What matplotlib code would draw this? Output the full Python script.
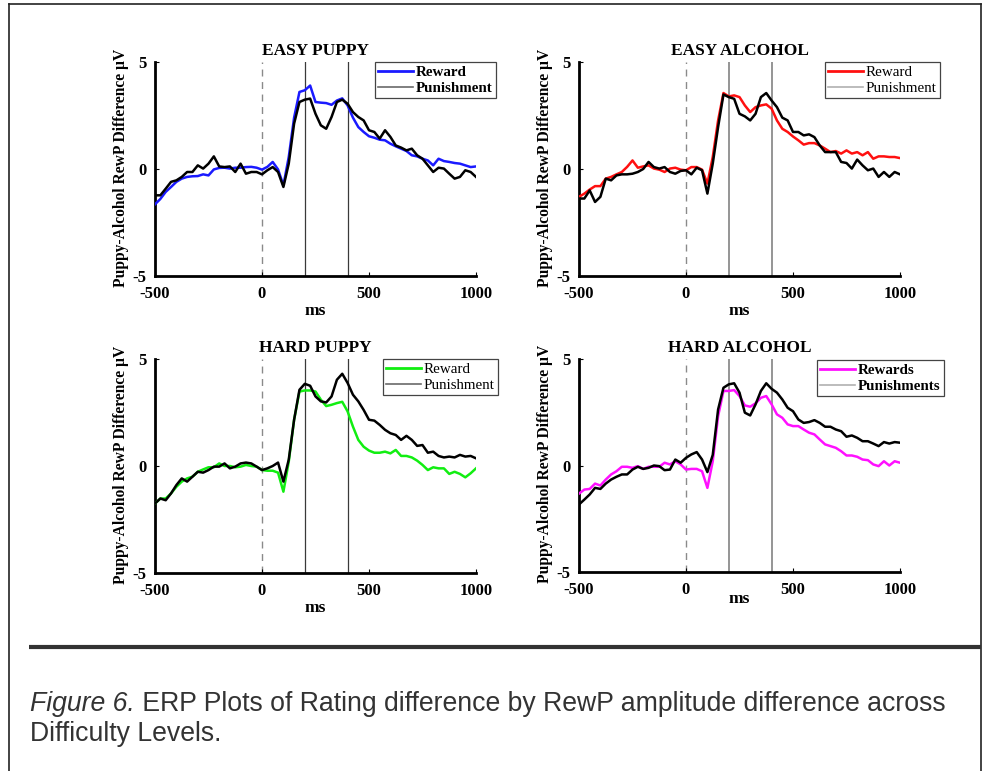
import numpy as np
import matplotlib
matplotlib.use('Agg')
import matplotlib.pyplot as plt
from matplotlib.lines import Line2D

# ---------------- data (µV, every 25 ms from -500 to 1000 ms) ----------------
time_ms = np.arange(-500, 1001, 25)

easy_puppy_reward = [
    -1.65, -1.40, -1.07, -0.84, -0.60, -0.45, -0.37, -0.34, -0.33, -0.25,
    -0.30, -0.02, 0.05, 0.06, 0.02, 0.06, 0.06, 0.09, 0.10, 0.06,
    -0.03, 0.10, 0.33, -0.02, -0.76, 0.56, 2.40, 3.60, 3.68, 3.90,
    3.13, 3.10, 3.08, 3.00, 3.20, 3.30, 2.97, 2.40, 1.96, 1.73,
    1.53, 1.46, 1.37, 1.34, 1.18, 1.06, 0.95, 0.84, 0.64, 0.59,
    0.48, 0.40, 0.17, 0.48, 0.37, 0.33, 0.28, 0.25, 0.17, 0.09, 0.12]
easy_puppy_punish = [
    -1.23, -1.23, -0.92, -0.60, -0.53, -0.37, -0.14, -0.14, 0.17, 0.02,
    0.25, 0.59, 0.12, 0.09, 0.12, -0.14, 0.25, -0.22, -0.14, -0.14,
    -0.25, -0.06, 0.09, -0.14, -0.84, 0.25, 2.12, 3.13, 3.24, 3.29,
    2.58, 2.04, 1.88, 2.43, 3.13, 3.24, 3.05, 2.66, 2.43, 2.27,
    1.81, 1.73, 1.42, 1.81, 1.50, 1.10, 1.00, 0.87, 0.95, 0.64,
    0.48, 0.17, -0.14, 0.06, 0.02, -0.22, -0.45, -0.37, -0.06, -0.14, -0.37]

easy_alcohol_reward = [
    -1.30, -1.15, -0.96, -0.80, -0.80, -0.45, -0.37, -0.25, -0.14, 0.10,
    0.40, 0.06, 0.12, 0.17, 0.02, -0.03, -0.14, 0.02, 0.06, -0.03,
    -0.06, 0.09, 0.09, -0.03, -0.68, 0.56, 2.27, 3.55, 3.39, 3.44,
    3.36, 2.97, 2.66, 2.89, 2.97, 3.02, 2.82, 2.27, 1.88, 1.73,
    1.52, 1.34, 1.14, 1.21, 1.21, 1.10, 0.95, 0.79, 0.84, 0.72,
    0.87, 0.72, 0.79, 0.64, 0.79, 0.48, 0.59, 0.59, 0.56, 0.56, 0.51]
easy_alcohol_punish = [
    -1.38, -1.38, -1.00, -1.54, -1.30, -0.45, -0.53, -0.30, -0.25, -0.25,
    -0.22, -0.14, 0.00, 0.33, 0.09, 0.02, 0.09, -0.14, -0.22, -0.09,
    -0.06, -0.25, 0.06, -0.06, -1.15, 0.25, 1.96, 3.48, 3.36, 3.28,
    2.58, 2.46, 2.27, 2.58, 3.36, 3.55, 3.20, 2.89, 2.40, 2.27,
    1.73, 1.73, 1.57, 1.62, 1.49, 1.10, 0.79, 0.79, 0.79, 0.33,
    0.28, 0.02, 0.44, 0.17, -0.06, 0.02, -0.37, -0.14, -0.37, -0.14, -0.25]

hard_puppy_reward = [
    -1.75, -1.52, -1.52, -1.28, -0.97, -0.73, -0.58, -0.50, -0.27, -0.16,
    -0.06, -0.06, 0.12, 0.00, 0.00, -0.06, -0.03, 0.05, 0.00, -0.03,
    -0.19, -0.22, -0.22, -0.31, -1.20, 0.20, 2.16, 3.48, 3.53, 3.53,
    3.48, 3.10, 2.80, 2.86, 2.94, 3.00, 2.55, 1.84, 1.22, 0.90,
    0.72, 0.62, 0.62, 0.67, 0.59, 0.75, 0.47, 0.47, 0.40, 0.25,
    0.05, -0.19, -0.06, -0.11, -0.11, -0.37, -0.27, -0.37, -0.53, -0.34, -0.11]
hard_puppy_punish = [
    -1.75, -1.52, -1.60, -1.28, -0.89, -0.58, -0.73, -0.50, -0.27, -0.31,
    -0.19, -0.03, -0.03, 0.12, -0.11, -0.03, 0.12, 0.16, 0.12, -0.03,
    -0.19, -0.11, 0.00, 0.16, -0.73, 0.30, 2.16, 3.56, 3.84, 3.75,
    3.25, 3.02, 2.97, 3.25, 4.03, 4.31, 3.88, 3.33, 3.02, 2.62,
    2.16, 2.12, 1.92, 1.69, 1.53, 1.45, 1.22, 1.41, 1.22, 0.94,
    0.98, 0.62, 0.67, 0.47, 0.40, 0.44, 0.40, 0.52, 0.44, 0.47, 0.36]

hard_alcohol_reward = [
    -1.32, -1.13, -1.10, -0.85, -0.94, -0.66, -0.42, -0.27, -0.06, -0.06,
    -0.11, -0.03, -0.16, -0.06, -0.06, -0.06, 0.13, 0.05, 0.20, 0.05,
    -0.19, -0.16, -0.16, -0.27, -1.05, 0.20, 2.32, 3.50, 3.50, 3.54,
    3.26, 2.82, 2.76, 2.92, 3.18, 3.26, 2.87, 2.40, 2.24, 1.93,
    1.85, 1.85, 1.69, 1.54, 1.46, 1.22, 0.99, 0.91, 0.83, 0.67,
    0.47, 0.47, 0.41, 0.28, 0.25, 0.05, -0.03, 0.20, 0.00, 0.20, 0.13]
hard_alcohol_punish = [
    -1.83, -1.60, -1.36, -1.05, -1.10, -0.85, -0.66, -0.53, -0.42, -0.42,
    -0.19, -0.06, -0.16, -0.11, 0.00, -0.03, -0.22, -0.19, 0.28, 0.13,
    0.36, 0.52, 0.63, 0.28, -0.31, 0.50, 2.63, 3.65, 3.81, 3.86,
    3.42, 2.48, 2.35, 2.87, 3.50, 3.86, 3.60, 3.42, 3.10, 2.71,
    2.55, 2.16, 2.00, 2.04, 2.13, 2.00, 1.82, 1.82, 1.69, 1.61,
    1.35, 1.41, 1.30, 1.14, 1.14, 1.03, 0.91, 1.10, 1.03, 1.10, 1.07]

titles = ['EASY PUPPY', 'EASY ALCOHOL', 'HARD PUPPY', 'HARD ALCOHOL']
reward_labels = ['Reward', 'Reward', 'Reward', 'Rewards']
punish_labels = ['Punishment', 'Punishment', 'Punishment', 'Punishments']
x_ticks = [-500, 0, 500, 1000]
y_ticks = [-5, 0, 5]
marker_times = [200, 400]
y_label = 'Puppy-Alcohol RewP Difference µV'
x_label = 'ms'
caption_italic = 'Figure 6.'
caption_rest = ' ERP Plots of Rating difference by RewP amplitude difference across'
caption_line2 = 'Difficulty Levels.'

# ---------------- layout / styles ----------------
plt.rcParams['axes.unicode_minus'] = False
plt.rcParams['font.family'] = ['Liberation Serif', 'DejaVu Serif']

W, H = 988, 771
fig = plt.figure(figsize=(W / 100, H / 100), dpi=100)


def rect(l, t, r, b):
    return [l / W, 1 - b / H, (r - l) / W, (b - t) / H]


panel_specs = [
    dict(rect=rect(155, 62, 476, 276), rew=easy_puppy_reward, pun=easy_puppy_punish,
         color='#1a1aff', leg_xy=(375, 62), bold=True, vcol='#3a3a3a', vlw=0.9,
         pcol='#6a6a6a', xl=-35),
    dict(rect=rect(579, 62, 900, 276), rew=easy_alcohol_reward, pun=easy_alcohol_punish,
         color='#ff1010', leg_xy=(825, 62), bold=False, vcol='#8c8c8c', vlw=1.3,
         pcol='#b0b0b0', xl=-35),
    dict(rect=rect(155, 359, 476, 573), rew=hard_puppy_reward, pun=hard_puppy_punish,
         color='#11ee11', leg_xy=(383, 359), bold=False, vcol='#3a3a3a', vlw=0.9,
         pcol='#6a6a6a', xl=-35),
    dict(rect=rect(579, 359, 900, 572), rew=hard_alcohol_reward, pun=hard_alcohol_punish,
         color='#ff10ff', leg_xy=(817, 360), bold=True, vcol='#8c8c8c', vlw=1.3,
         pcol='#b0b0b0', xl=-27),
]

for i, spec in enumerate(panel_specs):
    ax = fig.add_axes(spec['rect'])
    ax.axvline(0, color='#8a8a8a', lw=1.0, dashes=(5, 4), zorder=1)
    for mt in marker_times:
        ax.axvline(mt, color=spec['vcol'], lw=spec['vlw'], zorder=1)
    ax.plot(time_ms, spec['rew'], color=spec['color'], lw=1.8, zorder=3)
    ax.plot(time_ms, spec['pun'], color='black', lw=1.8, zorder=4)
    ax.set_xlim(-500, 1000)
    ax.set_ylim(-5, 5)
    ax.set_xticks(x_ticks)
    ax.set_yticks(y_ticks)
    ax.tick_params(direction='in', length=3, width=0.8, labelsize=12)
    ax.tick_params(axis='x', pad=7)
    ax.tick_params(axis='y', pad=6)
    for lab in ax.get_xticklabels() + ax.get_yticklabels():
        lab.set_fontweight('bold')
    for s in ['top', 'right']:
        ax.spines[s].set_visible(False)
    for s in ['left', 'bottom']:
        ax.spines[s].set_linewidth(2.0)
    ax.set_title(titles[i], fontsize=12.5, fontweight='bold', pad=5)
    ax.set_ylabel(y_label, fontsize=11.2, fontweight='bold', va='center')
    ax.yaxis.set_label_coords(-34 / 321, 0.507)
    ax.set_xlabel(x_label, fontsize=12.5, fontweight='bold', va='center')
    ax.xaxis.set_label_coords(0.5, spec['xl'] / 214)

    handles = [Line2D([], [], color=spec['color'], lw=2.0),
               Line2D([], [], color=spec['pcol'], lw=1.2)]
    lx, ly = spec['leg_xy']
    leg = ax.legend(handles, [reward_labels[i], punish_labels[i]],
                    loc='upper left', bbox_to_anchor=(lx / W, 1 - ly / H),
                    bbox_transform=fig.transFigure, borderaxespad=0,
                    prop=dict(family='Liberation Serif', size=10.8,
                              weight='bold' if spec['bold'] else 'normal'),
                    frameon=True, fancybox=False, framealpha=1,
                    edgecolor='#444444', handlelength=2.3, handletextpad=0.2,
                    borderpad=0.22, labelspacing=0.18)
    leg.get_frame().set_linewidth(0.9)

# outer frame
fc = '#222222'
fig.add_artist(Line2D([9 / W, 9 / W], [1 - 4 / H, 0], transform=fig.transFigure, color=fc, lw=1.2))
fig.add_artist(Line2D([981 / W, 981 / W], [1 - 4 / H, 0], transform=fig.transFigure, color=fc, lw=1.2))
fig.add_artist(Line2D([9 / W, 981 / W], [1 - 4 / H, 1 - 4 / H], transform=fig.transFigure, color=fc, lw=1.2))
# heavy rule above caption
fig.add_artist(Line2D([29 / W, 981 / W], [1 - 647 / H, 1 - 647 / H], transform=fig.transFigure,
                      color='#333333', lw=3.0, solid_capstyle='butt'))

# caption
cap_kw = dict(family='Liberation Sans', size=19.2, color='#333333', va='baseline', ha='left')
t1 = fig.text(30 / W, 1 - 711 / H, caption_italic, style='italic', **cap_kw)
fig.canvas.draw()
ext = t1.get_window_extent(renderer=fig.canvas.get_renderer())
fig.text(ext.x1 / W, 1 - 711 / H, caption_rest, **cap_kw)
fig.text(30 / W, 1 - 741 / H, caption_line2, **cap_kw)

fig.savefig('out.png', dpi=100)
